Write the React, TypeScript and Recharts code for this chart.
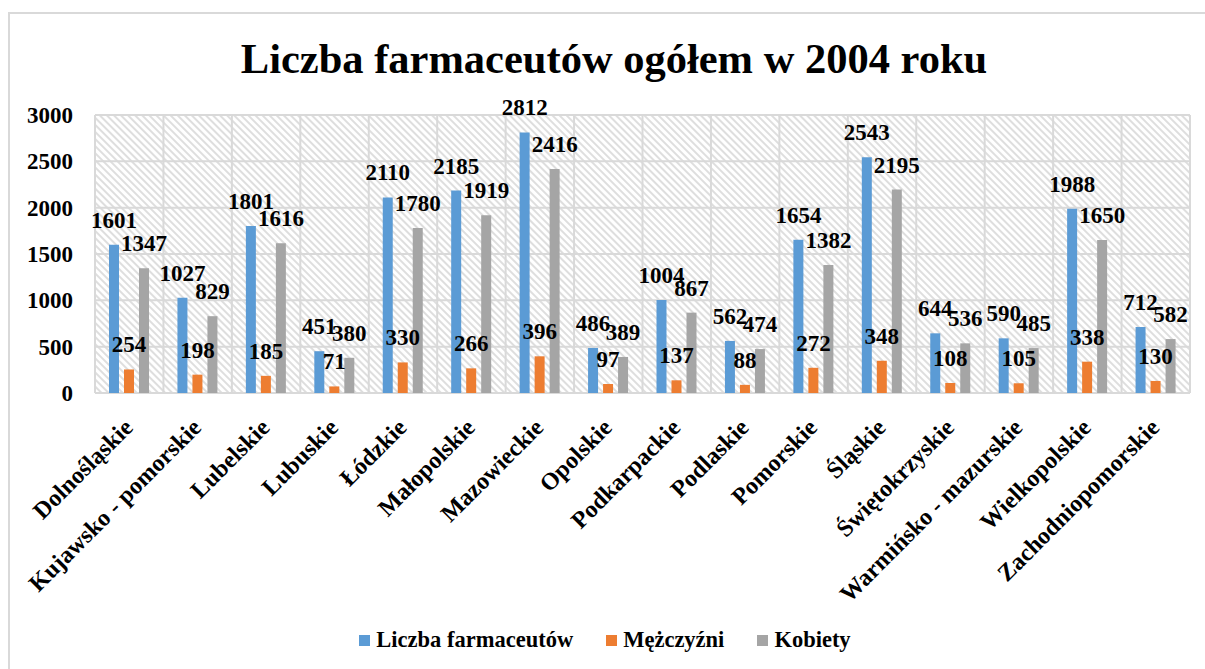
import React from "react"
import { BarChart, Bar, XAxis, YAxis, CartesianGrid, Legend, LabelList } from "recharts"

const regions = [
  "Dolnośląskie",
  "Kujawsko - pomorskie",
  "Lubelskie",
  "Lubuskie",
  "Łódzkie",
  "Małopolskie",
  "Mazowieckie",
  "Opolskie",
  "Podkarpackie",
  "Podlaskie",
  "Pomorskie",
  "Śląskie",
  "Świętokrzyskie",
  "Warmińsko - mazurskie",
  "Wielkopolskie",
  "Zachodniopomorskie",
]
const total = [1601, 1027, 1801, 451, 2110, 2185, 2812, 486, 1004, 562, 1654, 2543, 644, 590, 1988, 712]
const men = [254, 198, 185, 71, 330, 266, 396, 97, 137, 88, 272, 348, 108, 105, 338, 130]
const women = [1347, 829, 1616, 380, 1780, 1919, 2416, 389, 867, 474, 1382, 2195, 536, 485, 1650, 582]
const yTicks = [0, 500, 1000, 1500, 2000, 2500, 3000]

const series = [
  { key: "total", name: "Liczba farmaceutów", color: "#5b9bd5" },
  { key: "men", name: "Mężczyźni", color: "#ed7d31" },
  { key: "women", name: "Kobiety", color: "#a5a5a5" },
]

const data = regions.map((name, i) => ({ name, total: total[i], men: men[i], women: women[i] }))

const FONT = "'Liberation Serif', 'Times New Roman', serif"
const GRID = "#d9d9d9"
const textStyle = { fontFamily: FONT, fontWeight: 700, fontSize: 23, fill: "#000" }

function XTick({ x, y, payload }: any) {
  return (
    <g transform={`translate(${x + 5},${y + 28})`}>
      <text transform="rotate(-45)" textAnchor="end" style={{ ...textStyle, fontSize: 24 }}>
        {payload.value}
      </text>
    </g>
  )
}

function YTick({ x, y, payload }: any) {
  return (
    <text x={x} y={y} dy="0.35em" textAnchor="end" style={textStyle}>
      {payload.value}
    </text>
  )
}

function ValueLabel({ x, y, width, value }: any) {
  return (
    <text x={x + width / 2} y={y - 17} textAnchor="middle" style={textStyle}>
      {value}
    </text>
  )
}

function LegendBox() {
  return (
    <div
      style={{
        display: "flex",
        justifyContent: "center",
        alignItems: "center",
        gap: 33,
        paddingLeft: 20,
        height: 40,
        fontFamily: FONT,
        fontWeight: 700,
        fontSize: 22.5,
        color: "#000",
      }}
    >
      {series.map((s) => (
        <div key={s.key} style={{ display: "flex", alignItems: "center", gap: 6 }}>
          <div style={{ width: 11, height: 11, backgroundColor: s.color }}></div>
          <span style={{ fontFamily: FONT }}>{s.name}</span>
        </div>
      ))}
    </div>
  )
}

export default function App() {
  return (
    <div style={{ position: "absolute", left: 0, top: 0, width: 1205, height: 669, overflow: "hidden", background: "#fff" }}>
      <div
        style={{
          position: "absolute",
          left: 8,
          top: 12,
          width: 1300,
          height: 700,
          border: `2px solid ${GRID}`,
        }}
      ></div>
      <div
        style={{
          position: "absolute",
          left: 14,
          top: 37,
          width: 1200,
          textAlign: "center",
          fontFamily: FONT,
          fontWeight: 700,
          fontSize: 42.5,
          lineHeight: "44px",
        }}
      >
        Liczba farmaceutów ogółem w 2004 roku
      </div>
      <div style={{ position: "absolute", left: 0, top: 0 }}>
        <BarChart
          width={1205}
          height={669}
          data={data}
          margin={{ top: 115, right: 15, bottom: 9, left: 0 }}
          barSize={10}
          barGap={5}
        >
          <defs>
            <pattern id="hatch" patternUnits="userSpaceOnUse" width="5" height="5" patternTransform="rotate(45)">
              <rect width="5" height="5" fill="#ffffff" />
              <line x1="0" y1="1" x2="5" y2="1" stroke="#d6d6d6" strokeWidth="1.6" />
            </pattern>
          </defs>
          <CartesianGrid
            fill="url(#hatch)"
            stroke={GRID}
            strokeWidth={2}
            verticalCoordinatesGenerator={({ offset }: any) =>
              Array.from({ length: regions.length + 1 }, (_, i) => offset.left + (i * offset.width) / regions.length)
            }
          />
          <XAxis
            dataKey="name"
            interval={0}
            height={227}
            axisLine={false}
            tickLine={false}
            tick={<XTick />}
          />
          <YAxis
            domain={[0, 3000]}
            ticks={yTicks}
            width={95}
            axisLine={false}
            tickLine={false}
            tickSize={0}
            tickMargin={22}
            tick={<YTick />}
          />
          <Legend verticalAlign="bottom" height={40} content={() => <LegendBox />} />
          {series.map((s) => (
            <Bar key={s.key} dataKey={s.key} name={s.name} fill={s.color} isAnimationActive={false}>
              <LabelList dataKey={s.key} content={<ValueLabel />} />
            </Bar>
          ))}
        </BarChart>
      </div>
    </div>
  )
}
